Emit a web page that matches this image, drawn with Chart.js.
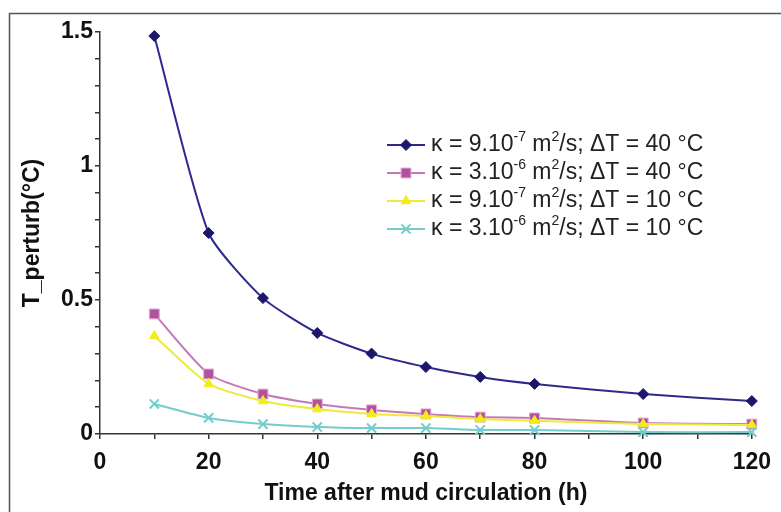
<!DOCTYPE html>
<html>
<head>
<meta charset="utf-8">
<script src="https://cdn.jsdelivr.net/npm/chart.js@4.4.1/dist/chart.umd.min.js"></script>
<style>
  html, body { margin: 0; padding: 0; background: #fff; }
</style>
</head>
<body>
<canvas id="chart" width="781" height="512"></canvas>
<script>
// Data
const hours = [10, 20, 30, 40, 50, 60, 70, 80, 100, 120];
const k9dT40 = [1.485, 0.75, 0.507, 0.377, 0.30, 0.25, 0.213, 0.187, 0.149, 0.123];
const k3dT40 = [0.448, 0.224, 0.149, 0.112, 0.09, 0.075, 0.063, 0.06, 0.041, 0.037];
const k9dT10 = [0.366, 0.187, 0.123, 0.093, 0.075, 0.067, 0.056, 0.049, 0.037, 0.034];
const k3dT10 = [0.112, 0.06, 0.037, 0.026, 0.022, 0.022, 0.015, 0.015, 0.007, 0.007];

// legend text pieces: normal, superscript, normal, superscript, normal
const legendLabels = [
    ['κ = 9.10', '-7', ' m', '2', '/s; ΔT = 40 °C'],
    ['κ = 3.10', '-6', ' m', '2', '/s; ΔT = 40 °C'],
    ['κ = 9.10', '-7', ' m', '2', '/s; ΔT = 10 °C'],
    ['κ = 3.10', '-6', ' m', '2', '/s; ΔT = 10 °C']
];

const toPoints = (ys) => ys.map((y, i) => ({ x: hours[i], y: y }));

const FONT = '"Liberation Sans", Arial, sans-serif';

function makeSet(values, line, fill, border, style, radius, order) {
    return {
        data: toPoints(values),
        borderColor: line,
        borderWidth: 2,
        backgroundColor: fill,
        pointBackgroundColor: fill,
        pointBorderColor: border,
        pointBorderWidth: style === 'crossRot' ? 2 : 1,
        pointStyle: style,
        pointRadius: radius,
        tension: 0.2,
        clip: false,
        order: order
    };
}

// Outer frame (top and left edge)
const framePlugin = {
    id: 'frame',
    beforeDraw(chart) {
        const ctx = chart.ctx;
        ctx.save();
        ctx.fillStyle = '#fff';
        ctx.fillRect(0, 0, chart.width, chart.height);
        ctx.strokeStyle = '#555';
        ctx.lineWidth = 1.5;
        ctx.beginPath();
        ctx.moveTo(9.5, chart.height);
        ctx.lineTo(9.5, 13.5);
        ctx.lineTo(chart.width, 13.5);
        ctx.stroke();
        ctx.restore();
    }
};

// Legend with superscripts
const legendPlugin = {
    id: 'supLegend',
    afterDraw(chart) {
        const ctx = chart.ctx;
        ctx.save();
        chart.data.datasets.forEach((ds, i) => {
            const y = 145 + i * 28;
            ctx.strokeStyle = ds.borderColor;
            ctx.lineWidth = 2;
            ctx.beginPath();
            ctx.moveTo(387, y);
            ctx.lineTo(425, y);
            ctx.stroke();
            ctx.fillStyle = ds.pointBackgroundColor;
            ctx.strokeStyle = ds.pointBorderColor;
            ctx.lineWidth = ds.pointBorderWidth;
            Chart.helpers.drawPoint(ctx, {
                pointStyle: ds.pointStyle,
                radius: ds.pointRadius,
                rotation: 0,
                borderWidth: ds.pointBorderWidth
            }, 406, y);

            let x = 431;
            ctx.fillStyle = '#222';
            ctx.textBaseline = 'middle';
            ctx.textAlign = 'left';
            legendLabels[i].forEach((piece, j) => {
                const sup = j % 2 === 1;
                ctx.font = (sup ? '14px ' : '23px ') + FONT;
                ctx.fillText(piece, x, sup ? y - 8 : y);
                x += ctx.measureText(piece).width;
            });
        });
        ctx.restore();
    }
};

const ctx = document.getElementById('chart').getContext('2d');
new Chart(ctx, {
    type: 'line',
    data: {
        datasets: [
            makeSet(k9dT40, '#2e2a8c', '#1c176b', '#1c176b', 'rectRot', 5.5, 4),
            makeSet(k3dT40, '#c678b6', '#b0539f', '#e3a8d6', 'rect', 7, 3),
            makeSet(k9dT10, '#eeea3c', '#f2ee1a', '#f2ee1a', 'triangle', 5.5, 2),
            makeSet(k3dT10, '#74cccc', '#74cccc', '#74cccc', 'crossRot', 6.5, 1)
        ]
    },
    options: {
        responsive: false,
        animation: false,
        layout: {
            padding: { left: 10, top: 32, right: 22, bottom: 0 }
        },
        plugins: {
            legend: { display: false },
            tooltip: { enabled: false }
        },
        scales: {
            x: {
                type: 'linear',
                min: 0,
                max: 120,
                afterFit: (s) => { s.height = 78; },
                ticks: {
                    stepSize: 10,
                    autoSkip: false,
                    maxRotation: 0,
                    padding: 10,
                    color: '#111',
                    font: { family: FONT, size: 23, weight: 'bold' },
                    callback: (v) => (v % 20 === 0 ? String(v) : '')
                },
                grid: {
                    drawOnChartArea: false,
                    drawTicks: true,
                    tickLength: 5,
                    color: '#333',
                    lineWidth: 1.5
                },
                border: { display: true, color: '#333', width: 1.5 },
                title: {
                    display: true,
                    text: 'Time after mud circulation (h)',
                    color: '#111',
                    font: { family: FONT, size: 23, weight: 'bold' },
                    padding: { top: 0, bottom: 5 }
                }
            },
            y: {
                min: 0,
                max: 1.5,
                afterFit: (s) => { s.width = 90; },
                ticks: {
                    stepSize: 0.1,
                    autoSkip: false,
                    padding: 2,
                    color: '#111',
                    font: { family: FONT, size: 23, weight: 'bold' },
                    callback: (v) => {
                        const h = v * 2;
                        return Math.abs(h - Math.round(h)) < 1e-6 ? String(Math.round(h) / 2) : '';
                    }
                },
                grid: {
                    drawOnChartArea: false,
                    drawTicks: true,
                    tickLength: 5,
                    color: '#333',
                    lineWidth: 1.5
                },
                border: { display: true, color: '#333', width: 1.5 },
                title: {
                    display: true,
                    text: 'T_perturb(°C)',
                    color: '#111',
                    font: { family: FONT, size: 23, weight: 'bold' },
                    padding: { top: 9, bottom: 0 }
                }
            }
        }
    },
    plugins: [framePlugin, legendPlugin]
});
</script>
</body>
</html>
